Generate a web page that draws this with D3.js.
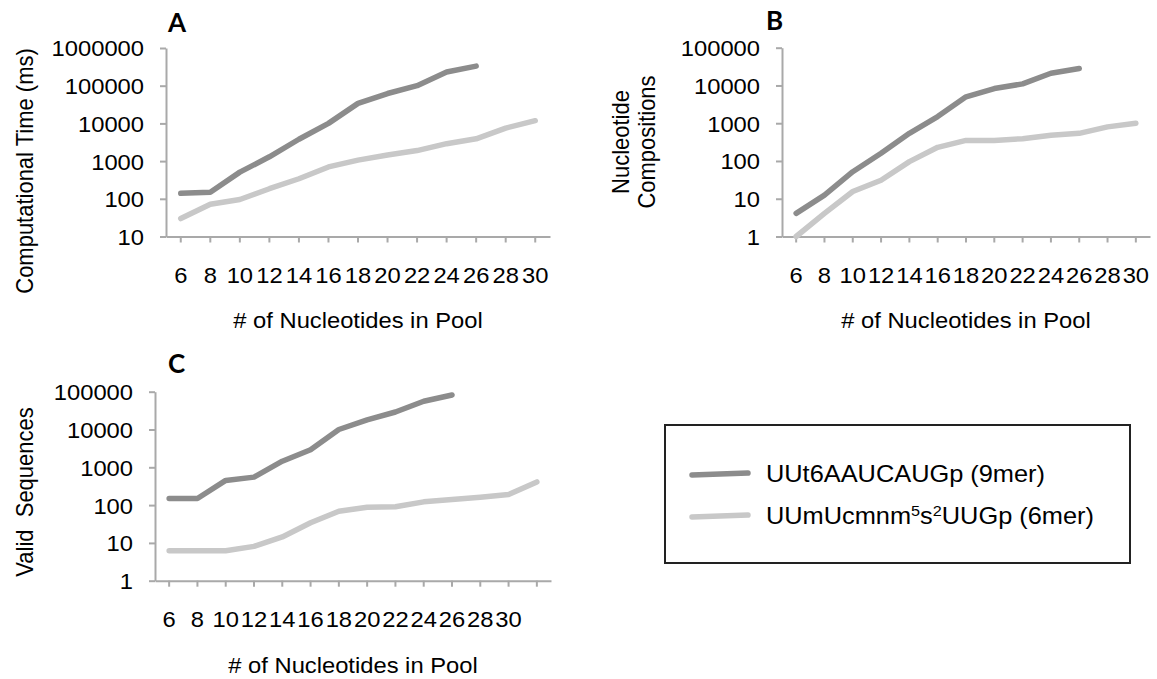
<!DOCTYPE html>
<html><head><meta charset="utf-8">
<script src="https://cdn.jsdelivr.net/npm/d3@7"></script>
<style>
body{margin:0;background:#fff}
text{font-family:"Liberation Sans",Arial,sans-serif;fill:#000}
</style>
</head><body>
<svg id="chart" width="1157" height="679"></svg>
<script>
// ---- data ----
const poolSizesAB = ["6","8","10","12","14","16","18","20","22","24","26","28","30"];
const poolSizesC  = ["6","8","10","12","14","16","18","20","22","24","26","28","30",""];
const seriesNames = ["UUt6AAUCAUGp (9mer)", "UUmUcmnm5s2UUGp (6mer)"];
// Panel A: computational time (ms)
const timeNine = [140,150,510,1300,3800,10000,34000,62000,100000,230000,330000];
const timeSix  = [30,72,96,185,340,700,1060,1450,1900,2900,3900,7500,11800];
// Panel B: nucleotide compositions
const compNine = [4.1,12.5,52,160,540,1500,5000,8300,11000,21000,28000];
const compSix  = [1,4.1,15.5,31,96,230,350,350,390,480,540,800,1000];
// Panel C: valid sequences
const validNine = [150,150,450,550,1450,2900,10000,18000,29000,56000,82000];
const validSix  = [6.2,6.2,6.2,8.1,14.4,34,69,88,90,122,140,162,190,410];
const yTicksA  = [10,100,1000,10000,100000,1000000];
const yTicksBC = [1,10,100,1000,10000,100000];
const panelLetters = ["A","B","C"];
const xTitle = "# of Nucleotides in Pool";

const colors = ["#8c8c8c", "#c8c8c8"];
const axisColor = "#a9a9a9";
const S = 1.08; // horizontal stretch of the reference's lettering
const svg = d3.select("#chart");

function stretch(sel){
  sel.each(function(){
    const t = d3.select(this);
    const x = +t.attr("x") || 0;
    t.attr("transform", `translate(${x*(1-S)},0) scale(${S},1)`);
  });
}

function panel(cfg){
  const g = svg.append("g");
  const x = d3.scaleBand().domain(cfg.cats.map((c,i)=>i)).range([cfg.left, cfg.right]);
  const y = d3.scaleLog().domain([cfg.yTicks[0], cfg.yTicks[cfg.yTicks.length-1]]).range([cfg.bottom, cfg.top]);

  const ya = g.append("g").attr("transform",`translate(${cfg.left},0)`)
    .call(d3.axisLeft(y).tickValues(cfg.yTicks).tickFormat(d3.format("d")).tickSize(6).tickSizeOuter(0).tickPadding(16));
  const xa = g.append("g").attr("transform",`translate(0,${cfg.bottom})`)
    .call(d3.axisBottom(x).tickFormat(i=>cfg.cats[i]).tickSize(6).tickSizeOuter(0).tickPadding(25));
  [ya, xa].forEach(a=>{
    a.selectAll("path,line").attr("stroke",axisColor).attr("stroke-width",2);
    a.selectAll("text").attr("font-size",22).attr("font-family","Liberation Sans, Arial, sans-serif").attr("fill","#000");
  });
  ya.selectAll("text").attr("dy","0.36em");
  stretch(ya.selectAll("text"));
  stretch(xa.selectAll("text"));

  const line = d3.line().x((d,i)=>x(i)+x.bandwidth()/2).y(d=>y(d));
  [cfg.s2, cfg.s1].forEach((s,k)=>{
    g.append("path").datum(s).attr("d",line).attr("fill","none")
      .attr("stroke", k===0 ? colors[1] : colors[0]).attr("stroke-width",5.5)
      .attr("stroke-linecap","round").attr("stroke-linejoin","round");
  });

  g.append("text").attr("x",cfg.letterX).attr("y",cfg.letterY)
    .style("font-family","Lato, 'Open Sans', sans-serif").style("font-weight","700").style("font-size","26px")
    .text(cfg.letter);

  g.append("text").attr("x",(cfg.left+cfg.right)/2).attr("y",cfg.bottom+92)
    .attr("text-anchor","middle").attr("font-size",22).text(xTitle)
    .call(stretch);

  cfg.yTitle.forEach((t,i)=>{
    g.append("text").attr("transform",`translate(${cfg.yTitleX[i]},${cfg.yTitleY}) scale(${S},1) rotate(-90)`)
      .attr("text-anchor","middle").attr("font-size",22).style("white-space","pre").text(t);
  });
}

panel({left:166, right:550, top:48, bottom:236.5, cats:poolSizesAB, yTicks:yTicksA,
  s1:timeNine, s2:timeSix, letter:panelLetters[0], letterX:168, letterY:32,
  yTitle:["Computational Time (ms)"], yTitleX:[33], yTitleY:171});
panel({left:782, right:1150, top:47.7, bottom:236.5, cats:poolSizesAB, yTicks:yTicksBC,
  s1:compNine, s2:compSix, letter:panelLetters[1], letterX:766, letterY:30,
  yTitle:["Nucleotide","Compositions"], yTitleX:[629,655], yTitleY:142});
panel({left:155, right:551, top:391.7, bottom:580.7, cats:poolSizesC, yTicks:yTicksBC,
  s1:validNine, s2:validSix, letter:panelLetters[2], letterX:168, letterY:373,
  yTitle:["Valid  Sequences"], yTitleX:[33], yTitleY:492});

// legend
const lg = svg.append("g");
lg.append("rect").attr("x",665).attr("y",425).attr("width",465).attr("height",138)
  .attr("fill","none").attr("stroke","#222").attr("stroke-width",2);
[474, 516].forEach((yy,i)=>{
  lg.append("line").attr("x1",692).attr("x2",748).attr("y1",yy+1).attr("y2",yy-1)
    .attr("stroke",colors[i]).attr("stroke-width",5.5).attr("stroke-linecap","round");
});
lg.append("text").attr("x",766).attr("y",482).attr("font-size",23.5).text(seriesNames[0]).call(stretch);
const t2 = lg.append("text").attr("x",766).attr("y",524).attr("font-size",23.5);
const parts = [["UUmUcmnm",0,0],["5",15,-8],["s",23.5,8],["2",15,-8],["UUGp (6mer)",23.5,8]];
parts.forEach(([s,fs,dy])=>{
  t2.append("tspan").text(s).attr("font-size", fs||23.5).attr("dy", dy);
});
t2.call(stretch);
</script>
</body></html>
